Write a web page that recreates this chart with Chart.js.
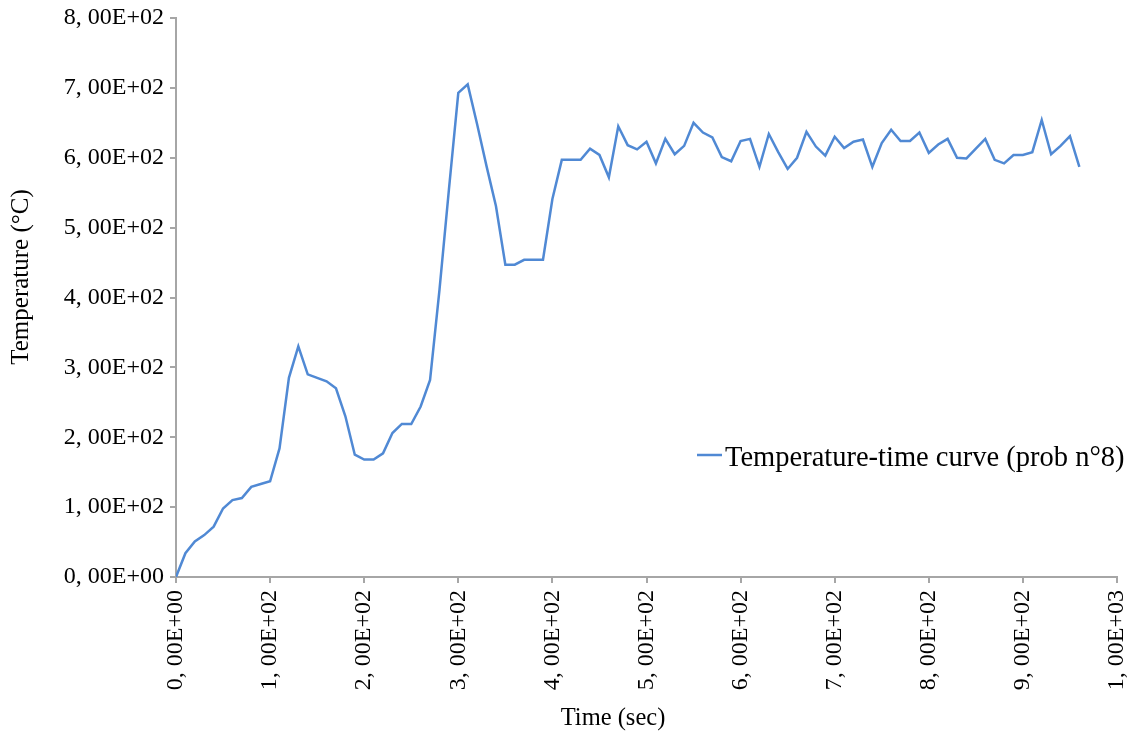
<!DOCTYPE html>
<html>
<head>
<meta charset="utf-8">
<script src="https://cdn.jsdelivr.net/npm/chart.js@4"></script>
<style>
  html, body { margin: 0; padding: 0; background: #fff; }
  #wrap { width: 1137px; height: 736px; }
</style>
</head>
<body>
<div id="wrap"><canvas id="chartTemp"></canvas></div>
<script>
// sampled every 10 s
const times = [
  0, 10, 20, 30, 40, 50, 60, 70, 80, 90,
  100, 110, 120, 130, 140, 150, 160, 170, 180, 190,
  200, 210, 220, 230, 240, 250, 260, 270, 280, 290,
  300, 310, 320, 330, 340, 350, 360, 370, 380, 390,
  400, 410, 420, 430, 440, 450, 460, 470, 480, 490,
  500, 510, 520, 530, 540, 550, 560, 570, 580, 590,
  600, 610, 620, 630, 640, 650, 660, 670, 680, 690,
  700, 710, 720, 730, 740, 750, 760, 770, 780, 790,
  800, 810, 820, 830, 840, 850, 860, 870, 880, 890,
  900, 910, 920, 930, 940, 950, 960
];
const temps = [
  0, 34, 51, 60, 72, 98, 110, 113, 129, 133,
  137, 184, 285, 330, 290, 285, 280, 270, 230, 175,
  168, 168, 177, 206, 219, 219, 244, 282, 411, 554,
  693, 705, 648, 588, 531, 447, 447, 454, 454, 454,
  541, 597, 597, 597, 613, 604, 572, 645, 618, 612,
  623, 592, 627, 605, 617, 650, 636, 629, 601, 595,
  624, 627, 587, 634, 608, 584, 600, 637, 616, 603,
  630, 614, 623, 626, 587, 621, 640, 624, 624, 636,
  607, 619, 627, 600, 599, 613, 627, 597, 592, 604,
  604, 608, 654, 605, 617, 631, 587
];
const seriesLabel = "Temperature-time curve (prob n°8)";
const xTitle = "Time (sec)";
const yTitle = "Temperature (°C)";

const FONT = "'Liberation Serif', 'Times New Roman', serif";
const AXIS_GREY = "#a6a6a6";
const LINE_BLUE = "#5089d4";

// "8, 00E+02" style labels
function sci(v) {
  let exp = v === 0 ? 0 : Math.floor(Math.log10(Math.abs(v)));
  let m = v / Math.pow(10, exp);
  let e = String(Math.abs(exp)).padStart(2, "0");
  return m.toFixed(2).replace(".", ", ") + "E" + (exp < 0 ? "-" : "+") + e;
}

// legend inside the plot + axis titles (both sit off-centre in the original)
const extras = {
  id: "extras",
  afterDraw(chart) {
    const c = chart.ctx;
    const a = chart.chartArea;
    const x = a.left + 521;
    const y = a.top + 437;
    c.save();
    c.strokeStyle = LINE_BLUE;
    c.lineWidth = 2.5;
    c.beginPath();
    c.moveTo(x, y);
    c.lineTo(x + 25, y);
    c.stroke();
    c.fillStyle = "#000";
    c.font = "28.5px " + FONT;
    c.textBaseline = "alphabetic";
    c.fillText(seriesLabel, x + 28, y + 11);

    // x title
    c.font = "24.5px " + FONT;
    c.textAlign = "center";
    c.textBaseline = "middle";
    c.fillText(xTitle, a.left + 437, 719);

    // y title
    c.translate(21, a.top + 259);
    c.rotate(-Math.PI / 2);
    c.font = "25px " + FONT;
    c.fillText(yTitle, 0, 0);
    c.restore();
  }
};

const ctx = document.getElementById("chartTemp");
new Chart(ctx, {
  type: "line",
  data: {
    datasets: [{
      label: seriesLabel,
      data: times.map((t, i) => ({ x: t, y: temps[i] })),
      borderColor: LINE_BLUE,
      borderWidth: 2.5,
      pointRadius: 0,
      tension: 0,
      fill: false
    }]
  },
  options: {
    responsive: true,
    maintainAspectRatio: false,
    animation: false,
    layout: { padding: { top: 18, right: 20, left: 0, bottom: 0 } },
    plugins: {
      legend: { display: false },
      tooltip: { enabled: false }
    },
    scales: {
      x: {
        type: "linear",
        min: 0,
        max: 1000,
        afterFit: s => { s.height = 159; s.paddingRight = 0; },
        ticks: {
          stepSize: 100,
          autoSkip: false,
          maxRotation: 90,
          minRotation: 90,
          padding: 7,
          color: "#000",
          font: { family: FONT, size: 24 },
          callback: v => sci(v)
        },
        grid: { drawOnChartArea: false, drawTicks: true, tickLength: 6, color: AXIS_GREY, lineWidth: 2 },
        border: { display: true, color: AXIS_GREY, width: 2 }
      },
      y: {
        min: 0,
        max: 800,
        afterFit: s => { s.width = 176; s.paddingTop = 0; },
        ticks: {
          stepSize: 100,
          padding: 6,
          color: "#000",
          font: { family: FONT, size: 24 },
          callback: v => sci(v)
        },
        grid: { drawOnChartArea: false, drawTicks: true, tickLength: 6, color: AXIS_GREY, lineWidth: 2 },
        border: { display: true, color: AXIS_GREY, width: 2 }
      }
    }
  },
  plugins: [extras]
});
</script>
</body>
</html>
